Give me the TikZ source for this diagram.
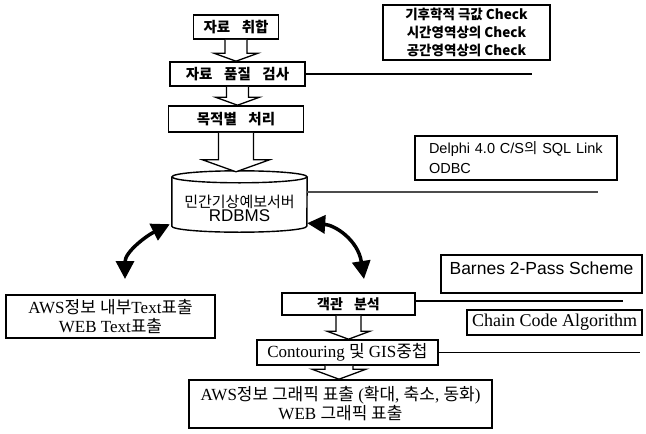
\documentclass[tikz,border=0pt]{standalone}
\usepackage{fontspec}
\setmainfont{Liberation Serif}
\setsansfont{Liberation Sans}
\newfontfamily\kr{Noto Sans CJK KR}
\usetikzlibrary{arrows.meta,calc}
\tikzset{
  box/.style={draw, line width=1.6pt, inner sep=0pt, fill=white},
  conn/.style={line width=1.6pt},
  dbconn/.style={line width=1.6pt, black!70},
  blk/.style={draw, line width=1.3pt, fill=white, line join=miter},
  dbl/.style={line width=3.5pt, {Triangle[length=18pt,width=18pt]}-{Triangle[length=18pt,width=18pt]}},
  krbold/.style={font={\kr\bfseries\fontsize{14.5}{17}\selectfont}},
  cyl/.style={line width=1.4pt}
}
\newcommand\blockarrow[5]{%
  \draw[blk] let \p1=(#1), \p2=(#2) in
    (\x1-#3,\y1) -- (\x1-#3,\y2+#5) -- (\x1-#4,\y2+#5) -- (\x1,\y2)
    -- (\x1+#4,\y2+#5) -- (\x1+#3,\y2+#5) -- (\x1+#3,\y1);}
\begin{document}
\begin{tikzpicture}[x=1pt,y=-1pt]
\useasboundingbox (0,0) rectangle (646,434);
\fill[white] (0,0) rectangle (646,434);

% main flow boxes
\node[box, krbold, minimum width=85pt, minimum height=24pt] (acq) at (236,27) {자료\hspace{0.8em}취합};
\node[box, krbold, minimum width=135pt, minimum height=24pt] (qc) at (237.5,74) {자료\hspace{0.8em}품질\hspace{0.8em}검사};
\node[box, krbold, minimum width=135pt, minimum height=26pt] (proc) at (236,119) {목적별\hspace{0.8em}처리};

% database cylinder
\node[inner sep=0pt, minimum width=135pt, minimum height=48pt, align=center] (db) at (239.5,208)
  {{\kr\fontsize{15}{18}\selectfont 민간기상예보서버}\\[0pt]{\sffamily\fontsize{17}{19}\selectfont RDBMS}};
\draw[cyl] ([yshift=7pt]db.north west) -- ([yshift=6pt]db.south west)
  arc[start angle=180, end angle=360, x radius=67.5pt, y radius=6pt]
  -- ([yshift=7pt]db.north east);
\draw[cyl] ([yshift=7pt]db.north) ellipse [x radius=67.5pt, y radius=6pt];

% side notes
\node[box, minimum width=167pt, minimum height=55pt, align=center,
  font={\kr\bfseries\fontsize{13.5}{18}\selectfont}] (chk) at (466.5,32.5)
  {기후학적 극값 Check\\시간영역상의 Check\\공간영역상의 Check};
\node[box, minimum width=202pt, minimum height=44pt, text width=174pt, align=left, inner xsep=14pt,
  font={\sffamily\fontsize{14.5}{20}\selectfont}] (dlp) at (516,158)
  {Delphi 4.0 C/S{\kr 의} SQL Link\\ODBC};
\node[box, anchor=base, minimum width=201pt, text height=19.5pt, text depth=18.5pt,
  font={\sffamily\fontsize{17.5}{20}\selectfont}] (brn) at (541.5,274.5) {Barnes 2-Pass Scheme};
\node[box, minimum width=175pt, minimum height=25pt, font=\fontsize{18}{19}\selectfont] (chn) at (554.5,322.5)
  {Chain Code Algorithm};

% lower boxes
\node[box, minimum width=209pt, minimum height=43pt, align=center, font=\fontsize{17}{19}\selectfont] (txt) at (110.5,316.5)
  {AWS{\kr 정보} {\kr 내부}Text{\kr 표출}\\WEB Text{\kr 표출}};
\node[box, minimum width=133pt, minimum height=22pt, font={\kr\bfseries\fontsize{14}{15}\selectfont}] (obj) at (348.5,304)
  {객관\hspace{0.8em}분석};
\node[box, minimum width=181pt, minimum height=25pt, font=\fontsize{17}{18}\selectfont] (cnt) at (347.5,352.5)
  {Contouring {\kr 및} GIS{\kr 중첩}};
\node[box, minimum width=303pt, minimum height=48pt, align=center, font=\fontsize{17}{19}\selectfont] (gfx) at (340.5,404)
  {AWS{\kr 정보 그래픽 표출} ({\kr 확대}, {\kr 축소}, {\kr 동화})\\WEB {\kr 그래픽 표출}};

% hollow block arrows
\blockarrow{acq.south}{qc.north}{11pt}{22pt}{8pt}
\blockarrow{qc.south}{proc.north}{11pt}{22pt}{8pt}
\blockarrow{proc.south}{[yshift=12pt]db.north}{17.5pt}{33.5pt}{12pt}
\blockarrow{obj.south}{cnt.north}{12.5pt}{21.5pt}{8pt}
\blockarrow{[xshift=-8.5pt]cnt.south}{gfx.north}{14pt}{27pt}{10pt}

% connector lines to notes
\coordinate (qcEnd) at (532,75);
\coordinate (dbEnd) at (598,192);
\coordinate (objEnd) at (623,301);
\coordinate (cntEnd) at (640,352.5);
\draw[conn] (qc.east) -- (qcEnd |- qc.east);
\draw[dbconn] (db.east |- dbEnd) -- (dbEnd);
\draw[conn] (obj.east |- objEnd) -- (objEnd);
\draw[conn] (cnt.east) -- (cntEnd |- cnt.east);

% curved double arrows
\coordinate (lfree) at (125,279);
\coordinate (rfree) at (364,279);
\draw[dbl] ([xshift=-2pt,yshift=8pt]db.south west) .. controls (146,236) and (125,252) .. (lfree);
\draw[dbl] ([yshift=9pt]db.south east) .. controls (335,225) and (358,240) .. (rfree);
\end{tikzpicture}
\end{document}
